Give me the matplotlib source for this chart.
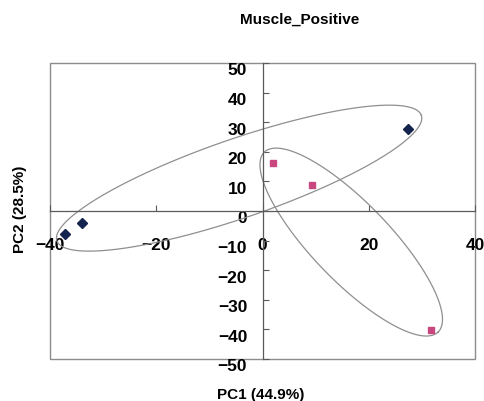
import numpy as np
import matplotlib
matplotlib.use('Agg')
import matplotlib.pyplot as plt
from matplotlib.transforms import ScaledTranslation

# PCA scores for the two groups
blue_pc1 = [-37.2, -34.0, 27.4]
blue_pc2 = [-7.8, -4.0, 27.7]
pink_pc1 = [2.0, 9.3, 31.7]
pink_pc2 = [16.2, 8.8, -40.2]

# group ellipses: centre plus two conjugate semi-axis vectors (PC units)
blue_centre = [-4.4, 11.1]
blue_axes = [[34.3, 21.2], [2.42, -12.6]]
pink_centre = [16.7, -10.5]
pink_axes = [[16.35, -30.4], [-5.28, -9.16]]

xticks = [-40, -20, 0, 20, 40]
yticks = list(range(-50, 51, 10))

plt.rcParams['font.family'] = ['Liberation Sans', 'DejaVu Sans']
plt.rcParams['font.weight'] = 'bold'


def ellipse_xy(centre, axes, n=200):
    t = np.linspace(0, 2 * np.pi, n)
    u, v = np.array(axes[0]), np.array(axes[1])
    x = centre[0] + np.cos(t) * u[0] + np.sin(t) * v[0]
    y = centre[1] + np.cos(t) * u[1] + np.sin(t) * v[1]
    return x, y


fig = plt.figure(figsize=(4.85, 4.02), dpi=100)
ax = fig.add_axes([0.1031, 0.1045, 0.8763, 0.7363])
ax.set_xlim(-40, 40)
ax.set_ylim(-50, 50)

for c, a in [(blue_centre, blue_axes), (pink_centre, pink_axes)]:
    ex, ey = ellipse_xy(c, a)
    ax.plot(ex, ey, color='#8f8f8f', lw=0.9, zorder=2)

ax.plot(blue_pc1, blue_pc2, 'D', color='#14244f', ms=5, zorder=3)
ax.plot(pink_pc1, pink_pc2, 's', color='#c9477f', ms=5, zorder=3)

# axes cross at the origin, outer box drawn separately
for side in ['top', 'right']:
    ax.spines[side].set_visible(False)
ax.spines['left'].set_position(('data', 0))
ax.spines['bottom'].set_position(('data', 0))
for side in ['left', 'bottom']:
    ax.spines[side].set_color('#5a5a5a')
    ax.spines[side].set_linewidth(0.9)
ax.add_patch(plt.Rectangle((0, 0), 1, 1, transform=ax.transAxes, fill=False,
                           ec='#8c8c8c', lw=1.0, clip_on=False, zorder=1))

ax.set_xticks(xticks)
ax.set_yticks(yticks)
ax.tick_params(axis='x', direction='in', length=4, pad=19, labelsize=12.5,
               color='#5a5a5a')
ax.tick_params(axis='y', direction='in', length=4, pad=11, labelsize=12.5,
               color='#5a5a5a')
shift = ScaledTranslation(0, -0.055, fig.dpi_scale_trans)
for lbl in ax.get_yticklabels():
    lbl.set_transform(lbl.get_transform() + shift)

ax.set_xlabel('PC1 (44.9%)', fontsize=11, fontweight='bold')
ax.xaxis.set_label_coords(0.496, -0.118)
ax.xaxis.label.set_va('center')
ax.set_ylabel('PC2 (28.5%)', fontsize=11, fontweight='bold')
ax.yaxis.set_label_coords(-0.0706, 0.51)
ax.yaxis.label.set_va('center')

fig.text(300 / 485, 1 - 20 / 402, 'Muscle_Positive', ha='center', va='center',
         fontsize=11, fontweight='bold')

fig.savefig('out.png', dpi=100)
